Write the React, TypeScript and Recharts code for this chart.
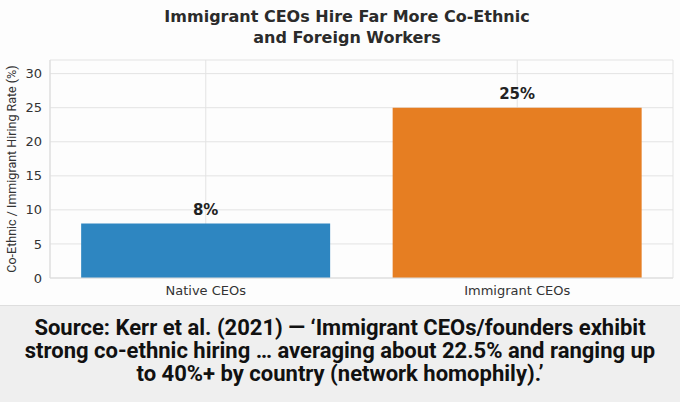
import React from "react";
import { BarChart, Bar, XAxis, YAxis, CartesianGrid, LabelList, Cell } from "recharts";

const categories = ["Native CEOs", "Immigrant CEOs"];
const rates = [8, 25];
const colors = ["#2E86C1", "#E67E22"];
const yTicks = [0, 5, 10, 15, 20, 25, 30];

const data = categories.map((c, i) => ({ name: c, value: rates[i] }));

export default function App() {
  return (
    <div style={{ position: "absolute", left: 0, top: 0, width: 680, height: 402, background: "#fdfdfd", overflow: "hidden" }}>
      <div
        style={{
          position: "absolute",
          left: 0,
          top: 6,
          width: 694,
          textAlign: "center",
          fontFamily: "DejaVu Sans",
          fontWeight: "bold",
          fontSize: 16,
          lineHeight: "21px",
          color: "#2b2b2b",
        }}
      >
        Immigrant CEOs Hire Far More Co-Ethnic
        <br />
        and Foreign Workers
      </div>
      <div style={{ position: "absolute", left: 0, top: 0 }}>
        <BarChart width={680} height={305} data={data} margin={{ top: 60, right: 7, bottom: 0, left: 0 }} barCategoryGap="10%">
          <CartesianGrid stroke="#e3e3e3" strokeWidth={1} />
          <XAxis
            dataKey="name"
            height={27}
            tickLine={false}
            axisLine={{ stroke: "#dcdcdc" }}
            tick={{ fill: "#333", fontSize: 13, fontFamily: "DejaVu Sans" }}
          />
          <YAxis
            width={50}
            domain={[0, 32]}
            ticks={yTicks}
            tickLine={false}
            axisLine={{ stroke: "#dcdcdc" }}
            tick={{ fill: "#333", fontSize: 13, fontFamily: "DejaVu Sans" }}
            label={{
              value: "Co-Ethnic / Immigrant Hiring Rate (%)",
              angle: -90,
              position: "insideLeft",
              offset: 12,
              style: { textAnchor: "middle", fill: "#333", fontSize: 12.5, fontFamily: "Roboto" },
            }}
          />
          <Bar dataKey="value" isAnimationActive={false}>
            {data.map((d, i) => (
              <Cell key={d.name} fill={colors[i]} />
            ))}
            <LabelList
              dataKey="value"
              position="top"
              offset={9}
              formatter={(v: number) => `${v}%`}
              style={{ fill: "#222", fontSize: 15, fontWeight: "bold", fontFamily: "DejaVu Sans" }}
            />
          </Bar>
        </BarChart>
      </div>
      <div
        style={{
          position: "absolute",
          left: 0,
          top: 305,
          width: 680,
          height: 97,
          background: "#efefef",
          borderTop: "1px solid #dedede",
          boxSizing: "border-box",
        }}
      >
        <div
          style={{
            marginTop: 10,
            textAlign: "center",
            fontFamily: "Roboto",
            fontWeight: 700,
            fontSize: 22,
            lineHeight: "23px",
            letterSpacing: 0,
            color: "#111",
          }}
        >
          Source: Kerr et al. (2021) — ‘Immigrant CEOs/founders exhibit
          <br />
          strong co-ethnic hiring … averaging about 22.5% and ranging up
          <br />
          to 40%+ by country (network homophily).’
        </div>
      </div>
    </div>
  );
}
